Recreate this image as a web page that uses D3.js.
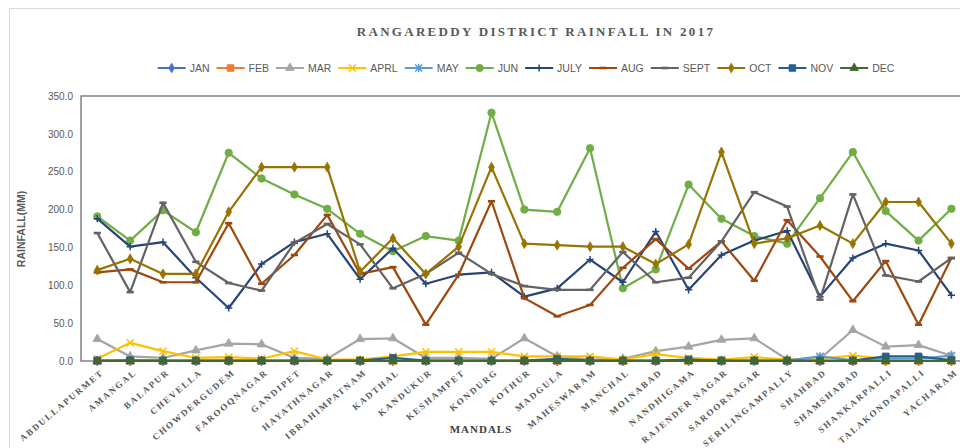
<!DOCTYPE html>
<html>
<head>
<meta charset="utf-8">
<script src="https://cdn.jsdelivr.net/npm/d3@7"></script>
<style>
  body { margin: 0; background: #fff; }
  svg { display: block; }
  .tick text { font-family: 'Liberation Sans', Arial, sans-serif; font-size: 10px; fill: #595959; }
</style>
</head>
<body>
<svg id="chart" width="960" height="448"></svg>
<script>
// Rangareddy rainfall 2017 – Excel style line chart
const mandals = ['ABDULLAPURMET','AMANGAL','BALAPUR','CHEVELLA','CHOWDERGUDEM','FAROOQNAGAR','GANDIPET',
  'HAYATHNAGAR','IBRAHIMPATNAM','KADTHAL','KANDUKUR','KESHAMPET','KONDURG','KOTHUR','MADGULA','MAHESWARAM',
  'MANCHAL','MOINABAD','NANDHIGAMA','RAJENDER NAGAR','SAROORNAGAR','SERILINGAMPALLY','SHAHBAD','SHAMSHABAD',
  'SHANKARPALLI','TALAKONDAPALLI','YACHARAM'];

const months = ['JAN','FEB','MAR','APRL','MAY','JUN','JULY','AUG','SEPT','OCT','NOV','DEC'];

const jan  = [0,0,0,0,0,0,0,0,0,0,0,0,0,0,0,0,0,0,0,0,0,0,0,0,0,0,0];
const feb  = [0,0,0,0,0,0,0,0,0,0,0,0,0,0,0,0,0,0,0,0,0,0,0,0,0,0,0];
const mar  = [29,6,4,14,23,22,4,3,29,30,4,4,3,30,6,2,3,13,19,28,30,2,3,41,19,21,7];
const aprl = [3,24,13,4,5,3,13,2,2,6,12,12,12,6,6,6,2,9,4,2,5,2,3,7,3,3,2];
const may  = [0.5,0.5,0.5,0.5,0.5,0.5,0.5,0.5,0.5,0.5,0.5,0.5,0.5,0.5,0.5,0.5,0.5,0.5,0.5,0.5,0.5,0.5,6,1,3,3,7];
const jun  = [191,159,199,170,275,241,220,201,168,145,165,159,328,200,197,281,96,121,233,188,165,155,215,276,198,159,201];
const july = [188,151,157,110,70,128,157,168,108,149,102,114,117,85,96,134,104,171,94,140,159,172,85,136,155,146,87];
const aug  = [117,121,104,104,182,102,140,193,115,124,48,114,211,83,59,74,123,161,122,158,106,186,138,79,132,48,136];
const sept = [169,91,209,131,103,93,156,181,154,96,115,143,115,99,94,94,144,104,110,158,223,204,81,220,113,105,136];
const oct  = [120,135,115,115,197,256,256,256,118,162,115,151,256,155,153,151,151,128,154,276,155,162,179,155,210,210,155];
const nov  = [0.5,1,0.5,0.5,0.5,0.5,0.5,0.5,0.5,4,0.5,0.5,0.5,0.5,3,0.5,0.5,0.5,2,0.5,0.5,0.5,0.5,0.5,6,6,1];
const dec  = [0,0,0,0,0,0,0,0,0,0,0,0,0,0,0,0,0,0,0,0,0,0,0,0,0,0,0];

const yTicks = [0,50,100,150,200,250,300,350];

const series = [
  { name: 'JAN',  values: jan,  color: '#4472C4', marker: 'diamond' },
  { name: 'FEB',  values: feb,  color: '#ED7D31', marker: 'square' },
  { name: 'MAR',  values: mar,  color: '#A5A5A5', marker: 'triangle' },
  { name: 'APRL', values: aprl, color: '#FFC000', marker: 'x' },
  { name: 'MAY',  values: may,  color: '#5B9BD5', marker: 'star' },
  { name: 'JUN',  values: jun,  color: '#70AD47', marker: 'circle' },
  { name: 'JULY', values: july, color: '#264478', marker: 'plus' },
  { name: 'AUG',  values: aug,  color: '#9E480E', marker: 'dash' },
  { name: 'SEPT', values: sept, color: '#636363', marker: 'dash' },
  { name: 'OCT',  values: oct,  color: '#997300', marker: 'diamond' },
  { name: 'NOV',  values: nov,  color: '#255E91', marker: 'square' },
  { name: 'DEC',  values: dec,  color: '#43682B', marker: 'triangle' }
];

const svg = d3.select('#chart');
const W = 960, H = 448;
const plot = { left: 81, top: 96, right: 968, bottom: 361 };

// outer chart frame
svg.append('rect').attr('x', 9.5).attr('y', 8.5).attr('width', W).attr('height', H)
  .attr('fill', 'none').attr('stroke', '#d9d9d9');

const x = d3.scalePoint().domain(mandals).range([97.3, 951.4]);
const y = d3.scaleLinear().domain([0, 350]).range([plot.bottom, plot.top]);

// title
svg.append('text').attr('x', 536).attr('y', 36).attr('text-anchor', 'middle')
  .style('font-family', "'Liberation Serif', 'DejaVu Serif', serif").style('font-weight', 'bold')
  .style('font-size', '13px').style('letter-spacing', '2.3px').style('fill', '#595959')
  .text('RANGAREDDY DISTRICT RAINFALL IN 2017');

// marker shapes
function markerPath(type, s) {
  switch (type) {
    case 'diamond': return d3.symbol(d3.symbolDiamond, s * s * 2.2)();
    case 'square': return d3.symbol(d3.symbolSquare, s * s * 3.6)();
    case 'triangle': return d3.symbol(d3.symbolTriangle, s * s * 2.6)();
    case 'circle': return d3.symbol(d3.symbolCircle, s * s * 3.4)();
    case 'plus': return `M${-s},0H${s}M0,${-s}V${s}`;
    case 'x': return `M${-s},${-s}L${s},${s}M${-s},${s}L${s},${-s}`;
    case 'star': return `M${-s},${-s}L${s},${s}M${-s},${s}L${s},${-s}M0,${-s * 1.2}V${s * 1.2}`;
    case 'dash': return `M${-s},0H${s}`;
  }
}
const stroked = new Set(['plus', 'x', 'star', 'dash']);
function drawMarker(g, d, s, color) {
  const p = g.append('path').attr('d', markerPath(d.marker, s));
  if (stroked.has(d.marker)) p.attr('fill', 'none').attr('stroke', color).attr('stroke-width', d.marker === 'dash' ? 2.6 : 1.5);
  else p.attr('fill', color).attr('stroke', color).attr('stroke-width', 0.8);
  return p;
}

// legend
const legend = svg.append('g').attr('class', 'legend');
const lineLen = 28, gapText = 4, gapItem = 7;
let lx = 0;
series.forEach(s => {
  const g = legend.append('g').attr('transform', `translate(${lx},0)`);
  g.append('line').attr('x1', 0).attr('x2', lineLen).attr('y1', 0).attr('y2', 0)
    .attr('stroke', s.color).attr('stroke-width', 2);
  const m = g.append('g').attr('transform', `translate(${lineLen / 2},0)`);
  drawMarker(m, s, 3.5, s.color);
  const t = g.append('text').attr('x', lineLen + gapText).attr('y', 0).attr('dy', '0.35em')
    .style('font-family', "'Liberation Sans Narrow', 'Liberation Sans', sans-serif")
    .style('font-size', '10.5px').style('fill', '#595959').text(s.name);
  lx += lineLen + gapText + t.node().getComputedTextLength() + gapItem;
});
const legendW = lx - gapItem;
legend.attr('transform', `translate(${526 - legendW / 2},68)`);

// y axis
const yAxis = svg.append('g').attr('transform', `translate(${plot.left},0)`)
  .call(d3.axisLeft(y).tickValues(yTicks).tickFormat(d3.format('.1f')).tickSize(0).tickPadding(8));
yAxis.select('.domain').remove();

// plot border
svg.append('rect').attr('x', plot.left).attr('y', plot.top)
  .attr('width', plot.right - plot.left).attr('height', plot.bottom - plot.top)
  .attr('fill', 'none').attr('stroke', '#6f6f6f').attr('stroke-width', 1.3);

// y axis title
svg.append('text').attr('transform', 'translate(25,229) rotate(-90)').attr('text-anchor', 'middle')
  .style('font-family', "'Liberation Sans Narrow', 'Liberation Sans', sans-serif").style('font-weight', 'bold')
  .style('font-size', '10.5px').style('fill', '#595959').text('RAINFALL(MM)');

// x labels
const xl = svg.append('g');
mandals.forEach(m => {
  xl.append('text').attr('transform', `translate(${x(m) + 5},371) rotate(-40)`)
    .attr('text-anchor', 'end').attr('dy', '0.35em')
    .style('font-family', "'Liberation Serif', 'DejaVu Serif', serif").style('font-weight', 'bold')
    .style('font-size', '9px').style('letter-spacing', '1.8px').style('fill', '#595959').text(m);
});

// x axis title
svg.append('text').attr('x', 481).attr('y', 433).attr('text-anchor', 'middle')
  .style('font-family', "'Liberation Serif', 'DejaVu Serif', serif").style('font-weight', 'bold')
  .style('font-size', '11px').style('letter-spacing', '1px').style('fill', '#404040').text('MANDALS');

// series
const line = d3.line().x((d, i) => x(mandals[i])).y(d => y(d));
series.forEach(s => {
  const g = svg.append('g');
  g.append('path').datum(s.values).attr('d', line).attr('fill', 'none')
    .attr('stroke', s.color).attr('stroke-width', 2.2).attr('stroke-linejoin', 'round');
  s.values.forEach((v, i) => {
    const m = g.append('g').attr('transform', `translate(${x(mandals[i])},${y(v)})`);
    drawMarker(m, s, 3.6, s.color);
  });
});
</script>
</body>
</html>
